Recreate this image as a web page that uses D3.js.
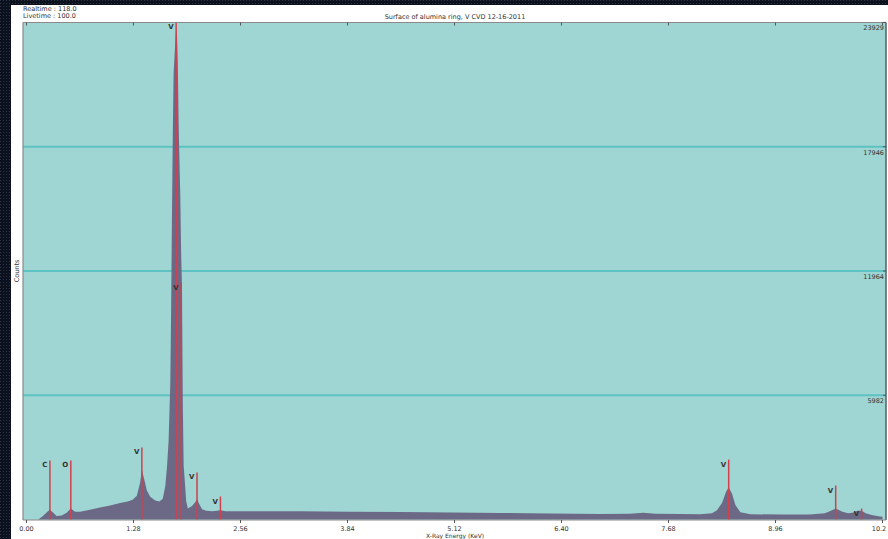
<!DOCTYPE html>
<html lang="en">
<head>
<meta charset="UTF-8">
<title>EDS spectrum</title>
<style>
  body { margin: 0; background: #0c131e; }
  svg { display: block; }
  text { font-family: "DejaVu Sans", sans-serif; fill: #333; }
</style>
</head>
<body>
<svg id="chart" width="888" height="539"></svg>
<script src="https://cdn.jsdelivr.net/npm/d3@7"></script>
<script>

// spectrum (energy in keV, counts)
let energy = [0, 0.14, 0.19, 0.25, 0.28, 0.32, 0.36, 0.42, 0.48, 0.53, 0.58, 0.64, 0.76, 0.88, 1.00, 1.12, 1.21, 1.27,
    1.32, 1.36, 1.38, 1.41, 1.44, 1.48, 1.54, 1.59, 1.63, 1.66, 1.68, 1.70, 1.72, 1.73, 1.74, 1.75, 1.76, 1.78,
    1.79, 1.80, 1.81, 1.82, 1.84, 1.85, 1.86, 1.87, 1.88, 1.90, 1.91, 1.93, 1.98, 2.02, 2.04, 2.06, 2.10, 2.15,
    2.22, 2.28, 2.32, 2.38, 2.55, 2.79, 3.27, 3.87, 4.47, 5.07, 5.66, 6.26, 6.86, 7.22, 7.38, 7.52, 7.82, 8.06,
    8.20, 8.26, 8.32, 8.37, 8.40, 8.44, 8.48, 8.54, 8.66, 9.02, 9.37, 9.55, 9.61, 9.68, 9.76, 9.83, 9.88, 9.94,
    9.99, 10.04, 10.11, 10.21, 10.24]
let counts = [0, 0, 150, 380, 480, 330, 170, 200, 330, 530, 380, 380, 480, 580, 680, 800, 870, 950,
    1150, 1800, 2400, 1900, 1400, 1100, 920, 870, 1000, 1600, 2500, 3800, 6500, 10000, 14500, 18500, 21500, 23000,
    23600, 23400, 22000, 19000, 15500, 12800, 11200, 5500, 2600, 1500, 900, 530, 650, 850, 1000, 800, 500, 420,
    400, 420, 450, 400, 400, 400, 400, 380, 360, 340, 320, 290, 270, 280, 330, 280, 265, 260,
    300, 450, 800, 1350, 1560, 1250, 700, 350, 260, 240, 240, 300, 400, 530, 380, 300, 330, 430,
    420, 300, 220, 150, 140]

// element markers
let markerLabels = ["C", "O", "V", "V", "V", "V", "V", "V", "V", "V"]
let markerEnergy = [0.28, 0.53, 1.38, 1.79, 1.85, 2.04, 2.32, 8.40, 9.68, 9.99]
let markerHeight = [2850, 2850, 3470, 23929, 11400, 2270, 1110, 2890, 1640, 530]

let xTicks = [0, 1.28, 2.56, 3.84, 5.12, 6.40, 7.68, 8.96, 10.24]
let xTickLabels = ["0.00", "1.28", "2.56", "3.84", "5.12", "6.40", "7.68", "8.96", "10.2"]
let yTicks = [5982, 11964, 17946, 23929]

let svg = d3.select("#chart")

// checkered dark frame
let defs = svg.append("defs")
let pat = defs.append("pattern").attr("id", "dots")
    .attr("width", 3).attr("height", 3).attr("patternUnits", "userSpaceOnUse")
pat.append("rect").attr("width", 3).attr("height", 3).attr("fill", "#0b121d")
pat.append("rect").attr("width", 1).attr("height", 1).attr("fill", "#2a3446")
svg.append("rect").attr("width", 888).attr("height", 539).attr("fill", "url(#dots)")
svg.append("rect").attr("x", 11).attr("y", 5).attr("width", 877).attr("height", 534).attr("fill", "white")

let plotL = 23, plotR = 886, plotT = 22.5, plotB = 520

let x = d3.scaleLinear().domain([0, 10.24]).range([26.5, 882.5])
let y = d3.scaleLinear().domain([0, 23929]).range([519.6, 22.4])

svg.append("rect").attr("x", plotL).attr("y", plotT)
    .attr("width", plotR - plotL).attr("height", plotB - plotT)
    .attr("fill", "#9fd5d2")

// gridlines
svg.selectAll(".grid").data(yTicks.slice(0, 3)).enter().append("line")
    .attr("x1", plotL).attr("x2", plotR)
    .attr("y1", d => y(d)).attr("y2", d => y(d))
    .attr("stroke", "#5ec2c3").attr("stroke-width", 2)

// spectrum
let data = energy.map((e, i) => ({ e: e, c: counts[i] }))
let area = d3.area().x(d => x(d.e)).y0(y(0)).y1(d => y(d.c))
svg.append("path").datum(data).attr("d", area).attr("fill", "#6c6986")

// markers
let markers = markerLabels.map((l, i) => ({ l: l, e: markerEnergy[i], h: markerHeight[i] }))
let mg = svg.selectAll(".marker").data(markers).enter().append("g")
mg.append("line")
    .attr("x1", d => x(d.e)).attr("x2", d => x(d.e))
    .attr("y1", d => y(d.h)).attr("y2", y(0))
    .attr("stroke", "#d2404c").attr("stroke-width", 1.5)
mg.append("text")
    .attr("x", d => x(d.e) - 2.5).attr("y", d => y(d.h) + 7)
    .attr("text-anchor", "end").attr("font-size", 7).attr("font-weight", "bold")
    .style("fill", "#333")
    .text(d => d.l)

// frame
svg.append("line").attr("x1", plotL).attr("x2", plotR).attr("y1", plotT).attr("y2", plotT)
    .attr("stroke", "#8a8a8a").attr("stroke-width", 1.2)
svg.append("line").attr("x1", plotL).attr("x2", plotL).attr("y1", plotT).attr("y2", plotB)
    .attr("stroke", "#8a8a8a").attr("stroke-width", 1.2)
svg.append("line").attr("x1", plotR).attr("x2", plotR).attr("y1", plotT).attr("y2", plotB)
    .attr("stroke", "#555c66").attr("stroke-width", 1.5)
svg.append("line").attr("x1", plotL).attr("x2", plotR).attr("y1", plotB).attr("y2", plotB)
    .attr("stroke", "#8a8a8a").attr("stroke-width", 1)

// x ticks, bottom and top
svg.selectAll(".xt").data(xTicks).enter().append("line")
    .attr("x1", d => x(d)).attr("x2", d => x(d)).attr("y1", plotB).attr("y2", plotB + 3)
    .attr("stroke", "#555")
svg.selectAll(".xtt").data(xTicks).enter().append("line")
    .attr("x1", d => x(d)).attr("x2", d => x(d)).attr("y1", plotT).attr("y2", plotT + 3)
    .attr("stroke", "#555")
svg.selectAll(".xl").data(xTicks).enter().append("text")
    .attr("x", d => Math.min(x(d), 879))
    .attr("y", 530.5)
    .attr("text-anchor", "middle").attr("font-size", 6.5)
    .text((d, i) => xTickLabels[i])

// y labels on the right
svg.selectAll(".yt").data(yTicks).enter().append("line")
    .attr("x1", plotR - 3).attr("x2", plotR).attr("y1", d => y(d)).attr("y2", d => y(d))
    .attr("stroke", "#555")
svg.selectAll(".yl").data(yTicks).enter().append("text")
    .attr("x", plotR - 2).attr("y", d => y(d) + 8)
    .attr("text-anchor", "end").attr("font-size", 6.5)
    .text(d => d)

// texts
svg.append("text").attr("x", 23).attr("y", 11).attr("font-size", 6.5).text("Realtime : 118.0")
svg.append("text").attr("x", 23).attr("y", 18).attr("font-size", 6.5).text("Livetime : 100.0")
svg.append("text").attr("x", 455).attr("y", 18.5).attr("text-anchor", "middle").attr("font-size", 6.5)
    .text("Surface of alumina ring, V CVD 12-16-2011")
svg.append("text").attr("x", 455).attr("y", 537.5).attr("text-anchor", "middle").attr("font-size", 6)
    .text("X-Ray Energy (KeV)")
svg.append("text").attr("transform", "translate(19,271) rotate(-90)")
    .attr("text-anchor", "middle").attr("font-size", 6.5).text("Counts")

</script>
</body>
</html>
